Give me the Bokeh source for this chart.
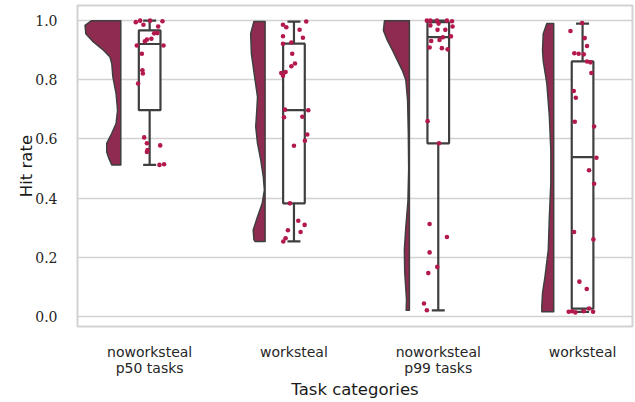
import numpy as np
from bokeh.plotting import figure
from bokeh.models import FixedTicker, Range1d
from bokeh.embed import file_html
from bokeh.resources import INLINE

# ---- data -------------------------------------------------------------
categories = ["noworksteal\np50 tasks", "worksteal", "noworksteal\np99 tasks", "worksteal"]
y_ticks = [0.0, 0.2, 0.4, 0.6, 0.8, 1.0]
y_tick_labels = ["0.0", "0.2", "0.4", "0.6", "0.8", "1.0"]

hits_0 = [0.995, 1.0, 0.986, 1.0, 0.998, 0.980, 0.958, 0.957, 0.939, 0.936, 0.930, 0.916,
          0.916, 0.888, 0.832, 0.821, 0.787, 0.605, 0.585, 0.578, 0.562, 0.556, 0.512, 0.514]
jitter_0 = [-0.096, -0.066, -0.043, 0.003, 0.089, 0.059, 0.054, 0.031, 0.012, -0.019, -0.033, -0.089,
            0.096, -0.054, -0.050, -0.047, -0.080, -0.038, -0.019, 0.073, -0.015, -0.019, 0.068, 0.100]

hits_1 = [0.986, 0.978, 0.997, 0.969, 0.947, 0.942, 0.922, 0.926, 0.888, 0.855, 0.846, 0.823,
          0.826, 0.814, 0.699, 0.697, 0.673, 0.675, 0.615, 0.594, 0.577, 0.382, 0.323, 0.309,
          0.291, 0.285, 0.264, 0.253]
jitter_1 = [-0.076, -0.053, 0.085, 0.039, -0.076, 0.062, -0.076, -0.018, -0.012, 0.007, -0.018, -0.088,
            -0.058, -0.076, -0.062, 0.099, -0.069, 0.058, 0.092, 0.076, 0.000, -0.028, 0.030, 0.074,
            -0.042, 0.046, -0.058, -0.074]

hits_2 = [1.0, 1.0, 1.0, 1.0, 0.998, 0.984, 0.990, 0.980, 0.969, 0.969, 0.944, 0.947, 0.931,
          0.935, 0.909, 0.907, 0.903, 0.660, 0.585, 0.312, 0.268, 0.216, 0.167, 0.146, 0.043, 0.020]
jitter_2 = [-0.079, -0.055, -0.009, 0.060, 0.095, -0.055, 0.002, 0.099, -0.005, 0.049, 0.032, 0.088, -0.049,
            0.009, -0.060, 0.025, 0.065, -0.074, 0.005, -0.060, 0.060, -0.060, -0.007, -0.069, -0.099, -0.079]

hits_3 = [0.992, 0.965, 0.941, 0.914, 0.890, 0.888, 0.886, 0.862, 0.859, 0.823, 0.762, 0.739,
          0.658, 0.642, 0.536, 0.494, 0.448, 0.285, 0.260, 0.117, 0.092, 0.015, 0.017, 0.013,
          0.026, 0.015, 0.017]
jitter_3 = [-0.003, -0.084, 0.015, 0.031, -0.057, -0.027, 0.008, 0.031, 0.054, 0.061, -0.061, -0.047,
            -0.054, 0.080, 0.096, 0.045, 0.080, -0.059, 0.075, -0.022, 0.029, -0.096, -0.073, -0.050,
            0.045, 0.073, 0.008]

# half-violin density profiles (hit rate, density relative to the largest peak)
violin_y_0 = [1.0, 0.984, 0.956, 0.928, 0.900, 0.877, 0.855, 0.810, 0.753, 0.697, 0.652, 0.619, 0.585, 0.556, 0.534, 0.512]
violin_d_0 = [0.81, 0.99, 0.97, 0.76, 0.48, 0.30, 0.25, 0.22, 0.13, 0.09, 0.13, 0.25, 0.39, 0.39, 0.33, 0.25]
violin_y_1 = [0.997, 0.956, 0.888, 0.810, 0.742, 0.697, 0.641, 0.585, 0.528, 0.472, 0.427, 0.382, 0.337, 0.292, 0.259, 0.253]
violin_d_1 = [0.31, 0.40, 0.38, 0.29, 0.21, 0.23, 0.26, 0.21, 0.12, 0.05, 0.02, 0.08, 0.21, 0.33, 0.31, 0.28]
violin_y_2 = [1.0, 0.967, 0.933, 0.900, 0.865, 0.830, 0.800, 0.730, 0.620, 0.500, 0.390, 0.300, 0.225, 0.150, 0.056, 0.020]
violin_d_2 = [0.69, 0.72, 0.61, 0.47, 0.33, 0.19, 0.10, 0.05, 0.03, 0.02, 0.04, 0.10, 0.14, 0.13, 0.08, 0.09]
violin_y_3 = [0.990, 0.956, 0.900, 0.863, 0.787, 0.675, 0.562, 0.450, 0.337, 0.225, 0.135, 0.078, 0.033, 0.015]
violin_d_3 = [0.19, 0.29, 0.31, 0.29, 0.19, 0.12, 0.08, 0.08, 0.12, 0.15, 0.24, 0.31, 0.33, 0.33]

box_q1 = [0.697, 0.382, 0.585, 0.026]
box_median = [0.921, 0.697, 0.944, 0.538]
box_q3 = [0.967, 0.922, 0.995, 0.862]
whisker_lo = [0.512, 0.253, 0.020, 0.015]
whisker_hi = [1.0, 0.997, 1.0, 0.990]

hits = [hits_0, hits_1, hits_2, hits_3]
jitters = [jitter_0, jitter_1, jitter_2, jitter_3]
violins = [(violin_y_0, violin_d_0), (violin_y_1, violin_d_1),
           (violin_y_2, violin_d_2), (violin_y_3, violin_d_3)]

# ---- style ------------------------------------------------------------
VIOLIN_FILL = "#8f2b51"
POINT_COLOR = "#b3194b"
BOX_LINE = "#3f3f3f"
GRID = "#d2d2d2"

p = figure(width=634, height=401, output_backend="svg", toolbar_location=None,
           x_range=Range1d(-0.5, 3.346), y_range=Range1d(-0.0347, 1.0513),
           min_border_left=77, min_border_right=2, min_border_top=5, min_border_bottom=74,
           background_fill_color="white", border_fill_color="white")

p.outline_line_color = GRID
p.outline_line_width = 2
p.xgrid.grid_line_color = None
p.ygrid.grid_line_color = GRID
p.ygrid.grid_line_width = 1.3

# ---- half violins -----------------------------------------------------
half_width = 0.25
for i, (vy, vd) in enumerate(violins):
    edge = i - 0.2
    xs = [edge - d * half_width for d in vd] + [edge, edge]
    ys = list(vy) + [vy[-1], vy[0]]
    p.patch(xs, ys, fill_color=VIOLIN_FILL, line_color=BOX_LINE, line_width=1.5, line_join="round")

# ---- boxes ------------------------------------------------------------
pos = [0, 1, 2, 3]
bw_box = 0.075
cap = 0.045
p.segment(x0=pos, y0=box_q3, x1=pos, y1=whisker_hi, line_color=BOX_LINE, line_width=2.2)
p.segment(x0=pos, y0=box_q1, x1=pos, y1=whisker_lo, line_color=BOX_LINE, line_width=2.2)
p.segment(x0=[x - cap for x in pos], y0=whisker_hi, x1=[x + cap for x in pos], y1=whisker_hi,
          line_color=BOX_LINE, line_width=2.2)
p.segment(x0=[x - cap for x in pos], y0=whisker_lo, x1=[x + cap for x in pos], y1=whisker_lo,
          line_color=BOX_LINE, line_width=2.2)
p.quad(left=[x - bw_box for x in pos], right=[x + bw_box for x in pos], bottom=box_q1, top=box_q3,
       fill_color="white", line_color=BOX_LINE, line_width=2.2)
p.segment(x0=[x - bw_box for x in pos], y0=box_median, x1=[x + bw_box for x in pos], y1=box_median,
          line_color=BOX_LINE, line_width=2.2)

# ---- points -----------------------------------------------------------
for i in range(4):
    xs = [i + j for j in jitters[i]]
    p.scatter(xs, hits[i], size=4.6, fill_color=POINT_COLOR, line_color=None)

# ---- axes -------------------------------------------------------------
p.xaxis.ticker = FixedTicker(ticks=pos)
p.xaxis.major_label_overrides = {i: c for i, c in enumerate(categories)}
p.yaxis.ticker = FixedTicker(ticks=y_ticks)
p.yaxis.major_label_overrides = {t: l for t, l in zip(y_ticks, y_tick_labels)}

for ax in (p.xaxis, p.yaxis):
    ax.axis_line_color = None
    ax.major_tick_line_color = None
    ax.minor_tick_line_color = None
    ax.axis_label_text_font_style = "normal"
    ax.axis_label_text_color = "#1a1a1a"
    ax.major_label_text_color = "#262626"

p.xaxis.axis_label = "Task categories"
p.yaxis.axis_label = "Hit rate"
p.xaxis.axis_label_text_font = "DejaVu Sans"
p.yaxis.axis_label_text_font = "DejaVu Sans"
p.xaxis.axis_label_text_font_size = "16.5px"
p.yaxis.axis_label_text_font_size = "16.5px"
p.xaxis.major_label_text_font = "DejaVu Sans"
p.xaxis.major_label_text_font_size = "14px"
p.xaxis.major_label_text_line_height = 1.0
p.yaxis.major_label_text_font = "DejaVu Serif"
p.yaxis.major_label_text_font_size = "14px"
p.yaxis.major_label_standoff = 14
p.xaxis.major_label_standoff = 11
p.xaxis.axis_label_standoff = 1
p.yaxis.axis_label_standoff = -4

open("out.html", "w").write(file_html(p, INLINE))
